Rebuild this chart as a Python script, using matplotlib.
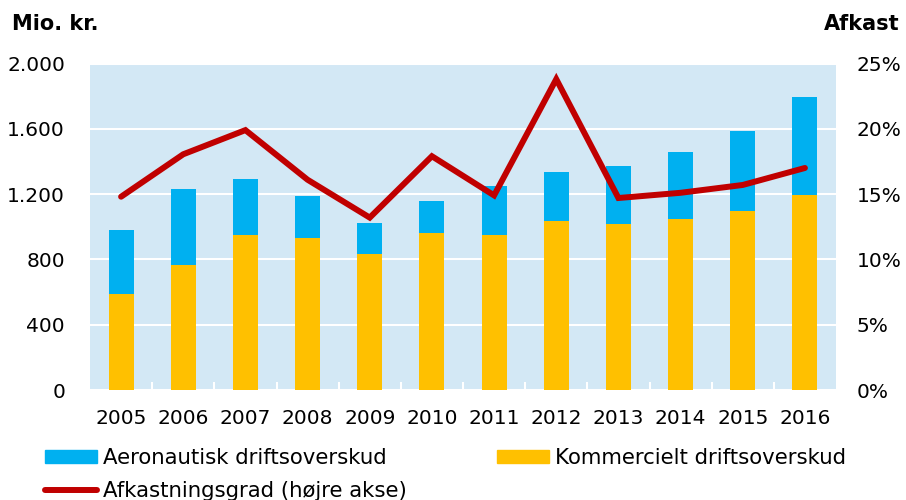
import matplotlib
matplotlib.use("Agg")
import matplotlib.pyplot as plt
import numpy as np
from matplotlib.lines import Line2D
from matplotlib.patches import Patch

years = ["2005", "2006", "2007", "2008", "2009", "2010", "2011", "2012", "2013", "2014", "2015", "2016"]
kommerciel = [588, 766, 950, 929, 833, 964, 950, 1036, 1017, 1046, 1099, 1193]
total = [982, 1230, 1293, 1190, 1025, 1160, 1250, 1334, 1373, 1460, 1585, 1797]
aeronautisk = [t - k for t, k in zip(total, kommerciel)]
afkast = [14.8, 18.05, 19.9, 16.1, 13.2, 17.9, 14.9, 23.8, 14.7, 15.1, 15.7, 17.0]

left_ticks = [0, 400, 800, 1200, 1600, 2000]
left_labels = ["0", "400", "800", "1.200", "1.600", "2.000"]
right_ticks = [0, 5, 10, 15, 20, 25]
right_labels = ["0%", "5%", "10%", "15%", "20%", "25%"]

BLUE = "#00B0F0"
YELLOW = "#FFC000"
RED = "#C00000"
BG = "#D3E8F5"

plt.rcParams['font.family'] = ['DejaVu Sans']
fs = 14.5
lfs = 15.3

fig = plt.figure(figsize=(9.06, 5.0), dpi=100)
ax = fig.add_axes([90/906, 1-390/500, (836-90)/906, (390-63.5)/500])
ax.set_facecolor(BG)
for s in ax.spines.values():
    s.set_visible(False)

x = np.arange(len(years))
ax.bar(x, kommerciel, width=0.4, color=YELLOW, zorder=3)
ax.bar(x, aeronautisk, bottom=kommerciel, width=0.4, color=BLUE, zorder=3)

ax.set_ylim(0, 2000)
ax.set_xlim(-0.5, len(years) - 0.5)
ax.set_yticks(left_ticks)
ax.set_yticklabels(left_labels)
ax.yaxis.grid(True, color="white", lw=1.5, zorder=1)
ax.set_axisbelow(True)
ax.tick_params(axis='y', length=0, pad=18, labelsize=fs)
ax.set_xticks(x)
ax.set_xticklabels(years)
ax.tick_params(axis='x', which='major', length=0, pad=14, labelsize=fs)
ax.set_xticks(np.arange(0.5, len(years) - 1, 1.0), minor=True)
ax.tick_params(axis='x', which='minor', direction='in', length=6, width=1.5, color='white')

ax2 = ax.twinx()
for s in ax2.spines.values():
    s.set_visible(False)
ax2.set_ylim(0, 25)
ax2.plot(x, afkast, color=RED, lw=4.3, solid_capstyle='round', solid_joinstyle='miter', zorder=5)
ax2.set_yticks(right_ticks)
ax2.set_yticklabels(right_labels)
ax2.tick_params(axis='y', length=0, pad=15, labelsize=fs)

fig.text(12/906, 1-24/500, "Mio. kr.", fontsize=15, fontweight='bold', va='center', ha='left')
fig.text(900/906, 1-24/500, "Afkast", fontsize=15, fontweight='bold', va='center', ha='right')

handles = [Patch(color=BLUE), Line2D([0], [0], color=RED, lw=4.3, solid_capstyle='round'), Patch(color=YELLOW)]
labels = ["Aeronautisk driftsoverskud", "Afkastningsgrad (højre akse)", "Kommercielt driftsoverskud"]
fig.legend(handles, labels, ncol=2, loc='upper left', bbox_to_anchor=(45/906, 1-448/500),
           frameon=False, fontsize=lfs, handlelength=2.45, handleheight=0.56, handletextpad=0.28,
           columnspacing=4.23, labelspacing=0.62, borderpad=0, borderaxespad=0)

fig.savefig("out.png", dpi=100)
